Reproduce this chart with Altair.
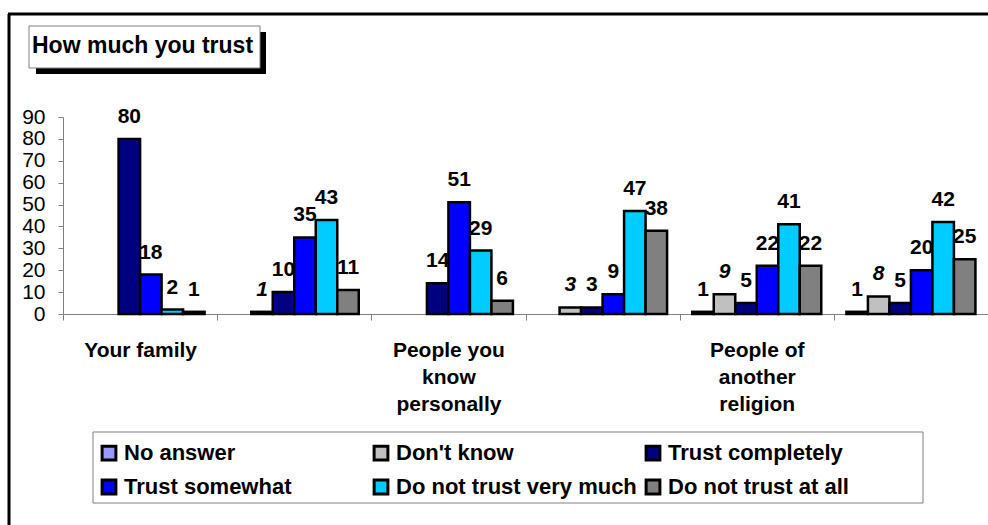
import altair as alt
import pandas as pd

# Trust survey: share of respondents (%) by answer, for each group of people
categories = [
    "Your family",
    "Your neighborhood",
    "People you know personally",
    "People you meet for the first time",
    "People of another religion",
    "People of another nationality",
]
series = [
    "No answer",
    "Don't know",
    "Trust completely",
    "Trust somewhat",
    "Do not trust very much",
    "Do not trust at all",
]
colors = ["#9999FF", "#C0C0C0", "#000080", "#0000FF", "#00CCFF", "#808080"]

no_answer = [None, None, None, None, 1, 1]
dont_know = [None, 1, None, 3, 9, 8]
trust_completely = [80, 10, 14, 3, 5, 5]
trust_somewhat = [18, 35, 51, 9, 22, 20]
not_very_much = [2, 43, 29, 47, 41, 42]
not_at_all = [1, 11, 6, 38, 22, 25]

# Axis captions (only every other group is captioned)
axis_captions = {
    "Your family": ["Your family"],
    "People you know personally": ["People you", "know", "personally"],
    "People of another religion": ["People of", "another", "religion"],
}

values_by_series = [no_answer, dont_know, trust_completely,
                    trust_somewhat, not_very_much, not_at_all]
rows = []
for s, vals in zip(series, values_by_series):
    for c, v in zip(categories, vals):
        if v is not None:
            rows.append({"category": c, "series": s, "value": v})
df = pd.DataFrame(rows)

def caption_expr():
    expr = "''"
    for key, lines in axis_captions.items():
        arr = "[" + ",".join("'" + l + "'" for l in lines) + "]"
        expr = f"datum.value == '{key}' ? {arr} : ({expr})"
    return expr

FONT = "Liberation Sans"

x_enc = alt.X(
    "category:N",
    sort=categories,
    scale=alt.Scale(paddingInner=0, paddingOuter=0),
    axis=alt.Axis(
        title=None,
        labelExpr=caption_expr(),
        labelAngle=0,
        labelFont=FONT,
        labelFontWeight="bold",
        labelFontSize=21,
        labelLineHeight=27,
        labelBaseline="top",
        labelPadding=19,
        labelColor="black",
        labelOverlap=False,
        labelLimit=400,
        tickBand="extent",
        tickSize=6,
        tickColor="#808080",
        domainColor="#808080",
        grid=False,
    ),
)
xoff_enc = alt.XOffset(
    "series:N", sort=series,
    scale=alt.Scale(paddingInner=0, paddingOuter=0.585),
)
y_enc = alt.Y(
    "value:Q",
    scale=alt.Scale(domain=[0, 90], nice=False),
    axis=alt.Axis(
        title=None,
        values=list(range(0, 100, 10)),
        grid=False,
        labelFont=FONT,
        labelFontSize=21,
        labelColor="black",
        labelPadding=13,
        tickSize=5,
        tickColor="#808080",
        domainColor="#808080",
    ),
)

base = alt.Chart(df)

bars = base.mark_bar(stroke="black", strokeWidth=2.5).encode(
    x=x_enc,
    xOffset=xoff_enc,
    y=y_enc,
    color=alt.Color(
        "series:N",
        sort=series,
        scale=alt.Scale(domain=series, range=colors),
        legend=alt.Legend(
            title=None,
            orient="none",
            legendX=35,
            legendY=325,
            columns=3,
            direction="horizontal",
            gridAlign="all",
            columnPadding=3,
            rowPadding=8,
            padding=0,
            symbolType="square",
            symbolSize=190,
            symbolStrokeColor="black",
            symbolStrokeWidth=3,
            labelFont=FONT,
            labelFontWeight="bold",
            labelFontSize=22,
            labelColor="black",
            labelOffset=4,
            labelLimit=400,
        ),
    ),
)

label_props = dict(font=FONT, fontWeight="bold", fontSize=21, color="black",
                   baseline="alphabetic", dy=-16)
labels = base.transform_filter(alt.datum.series != "Don't know").mark_text(
    **label_props
).encode(x=x_enc, xOffset=xoff_enc, y=y_enc, text=alt.Text("value:Q"))
labels_italic = base.transform_filter(alt.datum.series == "Don't know").mark_text(
    fontStyle="italic", **label_props
).encode(x=x_enc, xOffset=xoff_enc, y=y_enc, text=alt.Text("value:Q"))

# Decorations: outer frame, boxed heading with shadow, legend frame
one = alt.Chart(pd.DataFrame({"k": [0]}))
frame_top = one.mark_rule(color="black", strokeWidth=3).encode(
    x=alt.value(-55), x2=alt.value(925), y=alt.value(-103))
frame_left = one.mark_rule(color="black", strokeWidth=3).encode(
    x=alt.value(-54), y=alt.value(-103), y2=alt.value(408))
shadow = one.mark_rect(color="black").encode(
    x=alt.value(-27), x2=alt.value(203), y=alt.value(-85), y2=alt.value(-43))
head_box = one.mark_rect(fill="white", stroke="#808080", strokeWidth=1).encode(
    x=alt.value(-34), x2=alt.value(197), y=alt.value(-91), y2=alt.value(-49))
heading = one.mark_text(
    font=FONT, fontWeight="bold", fontSize=23, color="black",
    align="left", baseline="alphabetic",
).encode(x=alt.value(-31), y=alt.value(-64), text=alt.value("How much you trust"))
legend_box = one.mark_rect(fill=None, stroke="#808080", strokeWidth=1).encode(
    x=alt.value(30), x2=alt.value(860), y=alt.value(315), y2=alt.value(386))

chart = alt.layer(
    frame_top, frame_left, shadow, head_box, heading, legend_box,
    bars, labels, labels_italic,
).properties(
    width=925,
    height=197,
    padding={"left": 63, "top": 117, "right": 0, "bottom": 211},
    autosize=alt.AutoSizeParams(type="none"),
    background="white",
).configure_view(stroke=None)

chart.save("out.html", embed_options={"renderer": "svg", "actions": False})
